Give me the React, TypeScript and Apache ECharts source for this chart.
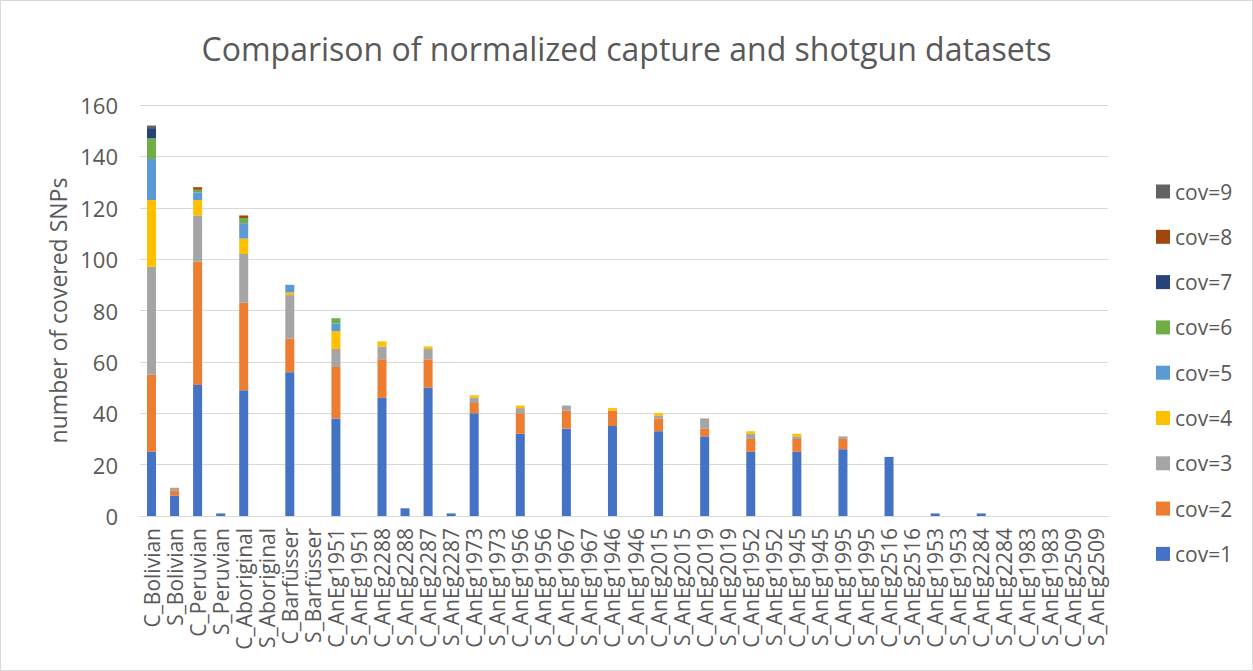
import React, { useEffect, useRef } from "react";
import * as echarts from "echarts";

const categories = [
  "C_Bolivian", "S_Bolivian", "C_Peruvian", "S_Peruvian", "C_Aboriginal", "S_Aboriginal",
  "C_Barfüsser", "S_Barfüsser", "C_AnEg1951", "S_AnEg1951", "C_AnEg2288", "S_AnEg2288",
  "C_AnEg2287", "S_AnEg2287", "C_AnEg1973", "S_AnEg1973", "C_AnEg1956", "S_AnEg1956",
  "C_AnEg1967", "S_AnEg1967", "C_AnEg1946", "S_AnEg1946", "C_AnEg2015", "S_AnEg2015",
  "C_AnEg2019", "S_AnEg2019", "C_AnEg1952", "S_AnEg1952", "C_AnEg1945", "S_AnEg1945",
  "C_AnEg1995", "S_AnEg1995", "C_AnEg2516", "S_AnEg2516", "C_AnEg1953", "S_AnEg1953",
  "C_AnEg2284", "S_AnEg2284", "C_AnEg1983", "S_AnEg1983", "C_AnEg2509", "S_AnEg2509",
];

const cov1 = [25, 8, 51, 1, 49, 0, 56, 0, 38, 0, 46, 3, 50, 1, 40, 0, 32, 0, 34, 0, 35, 0, 33, 0, 31, 0, 25, 0, 25, 0, 26, 0, 23, 0, 1, 0, 1, 0, 0, 0, 0, 0];
const cov2 = [30, 2, 48, 0, 34, 0, 13, 0, 20, 0, 15, 0, 11, 0, 4, 0, 8, 0, 7, 0, 6, 0, 5, 0, 3, 0, 5, 0, 5, 0, 4, 0, 0, 0, 0, 0, 0, 0, 0, 0, 0, 0];
const cov3 = [42, 1, 18, 0, 19, 0, 17, 0, 7, 0, 5, 0, 4, 0, 2, 0, 2, 0, 2, 0, 0, 0, 1, 0, 4, 0, 2, 0, 1, 0, 1, 0, 0, 0, 0, 0, 0, 0, 0, 0, 0, 0];
const cov4 = [26, 0, 6, 0, 6, 0, 1, 0, 7, 0, 2, 0, 1, 0, 1, 0, 1, 0, 0, 0, 1, 0, 1, 0, 0, 0, 1, 0, 1, 0, 0, 0, 0, 0, 0, 0, 0, 0, 0, 0, 0, 0];
const cov5 = [16, 0, 3, 0, 6, 0, 3, 0, 3, 0, 0, 0, 0, 0, 0, 0, 0, 0, 0, 0, 0, 0, 0, 0, 0, 0, 0, 0, 0, 0, 0, 0, 0, 0, 0, 0, 0, 0, 0, 0, 0, 0];
const cov6 = [8, 0, 1, 0, 2, 0, 0, 0, 2, 0, 0, 0, 0, 0, 0, 0, 0, 0, 0, 0, 0, 0, 0, 0, 0, 0, 0, 0, 0, 0, 0, 0, 0, 0, 0, 0, 0, 0, 0, 0, 0, 0];
const cov7 = [4, 0, 0, 0, 0, 0, 0, 0, 0, 0, 0, 0, 0, 0, 0, 0, 0, 0, 0, 0, 0, 0, 0, 0, 0, 0, 0, 0, 0, 0, 0, 0, 0, 0, 0, 0, 0, 0, 0, 0, 0, 0];
const cov8 = [0, 0, 1, 0, 1, 0, 0, 0, 0, 0, 0, 0, 0, 0, 0, 0, 0, 0, 0, 0, 0, 0, 0, 0, 0, 0, 0, 0, 0, 0, 0, 0, 0, 0, 0, 0, 0, 0, 0, 0, 0, 0];
const cov9 = [1, 0, 0, 0, 0, 0, 0, 0, 0, 0, 0, 0, 0, 0, 0, 0, 0, 0, 0, 0, 0, 0, 0, 0, 0, 0, 0, 0, 0, 0, 0, 0, 0, 0, 0, 0, 0, 0, 0, 0, 0, 0];

const seriesNames = ["cov=1", "cov=2", "cov=3", "cov=4", "cov=5", "cov=6", "cov=7", "cov=8", "cov=9"];
const seriesData = [cov1, cov2, cov3, cov4, cov5, cov6, cov7, cov8, cov9];
const seriesColors = ["#4472C4", "#ED7D31", "#A5A5A5", "#FFC000", "#5B9BD5", "#70AD47", "#264478", "#9E480E", "#636363"];

const titleText = "Comparison of normalized capture and shotgun datasets";
const yAxisName = "number of covered SNPs";

const FONT = "'Open Sans', sans-serif";
const TEXT = "#595959";

export default function App() {
  const ref = useRef<HTMLDivElement>(null);
  useEffect(() => {
    if (!ref.current) return;
    const chart = echarts.init(ref.current, undefined, { renderer: "svg" });
    chart.setOption({
      animation: false,
      backgroundColor: "#ffffff",
      textStyle: { fontFamily: FONT },
      title: {
        text: titleText,
        left: "center",
        top: 27,
        textStyle: { fontFamily: FONT, fontSize: 32, fontWeight: "normal", color: TEXT },
      },
      legend: {
        orient: "vertical",
        left: 1151,
        top: 176,
        itemWidth: 14,
        itemHeight: 14,
        itemGap: 24.3,
        icon: "rect",
        data: seriesNames.slice().reverse(),
        textStyle: { fontFamily: FONT, fontSize: 21, color: TEXT, lineHeight: 20 },
      },
      grid: { left: 140, right: 145, top: 105, bottom: 155, containLabel: false },
      xAxis: {
        type: "category",
        data: categories,
        axisLine: { lineStyle: { color: "#d9d9d9", width: 1 } },
        axisTick: { show: false },
        axisLabel: {
          interval: 0,
          rotate: 90,
          margin: 12,
          fontFamily: FONT,
          fontSize: 21,
          color: TEXT,
        },
      },
      yAxis: {
        type: "value",
        min: 0,
        max: 160,
        interval: 20,
        name: yAxisName,
        nameLocation: "middle",
        nameGap: 70,
        nameTextStyle: { fontFamily: FONT, fontSize: 23, color: TEXT },
        axisLine: { show: false },
        axisTick: { show: false },
        axisLabel: { margin: 22, fontFamily: FONT, fontSize: 22, color: TEXT },
        splitLine: { lineStyle: { color: "#d9d9d9", width: 1 } },
      },
      series: seriesNames.map((name, i) => ({
        name,
        type: "bar",
        stack: "total",
        barWidth: 9,
        data: seriesData[i],
        itemStyle: { color: seriesColors[i] },
      })),
      graphic: [
        {
          type: "rect",
          shape: { x: 0.5, y: 0.5, width: 1252, height: 670 },
          style: { fill: "none", stroke: "#d9d9d9", lineWidth: 1 },
          silent: true,
        },
      ],
    });
    return () => chart.dispose();
  }, []);
  return (
    <div
      ref={ref}
      style={{ position: "fixed", left: 0, top: 0, width: 1253, height: 671 }}
    />
  );
}
